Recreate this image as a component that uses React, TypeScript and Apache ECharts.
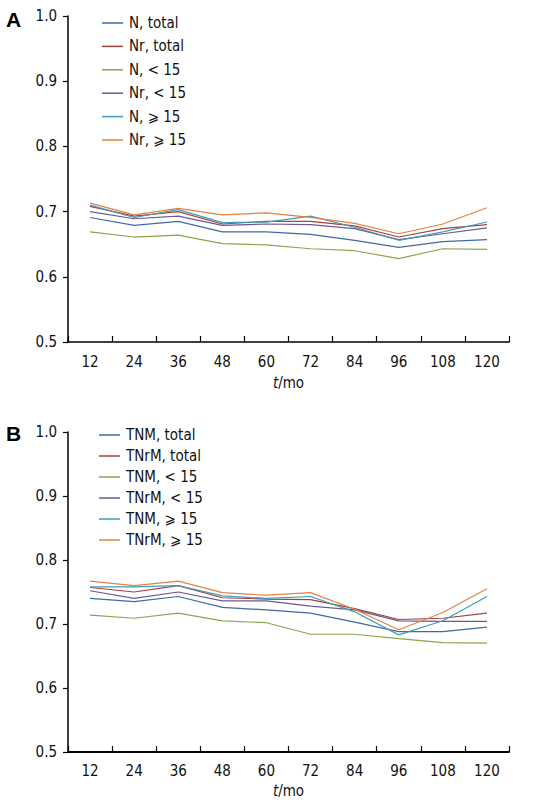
import React, { useEffect, useRef } from "react";
import * as echarts from "echarts";

const months = ["12", "24", "36", "48", "60", "72", "84", "96", "108", "120"];
const yTicks = [0.5, 0.6, 0.7, 0.8, 0.9, 1.0];

const namesA = ["N, total", "Nr, total", "N, < 15", "Nr, < 15", "N, ⩾ 15", "Nr, ⩾ 15"];
const nTotal = [0.691, 0.679, 0.685, 0.669, 0.669, 0.665, 0.656, 0.645, 0.654, 0.657];
const nrTotal = [0.708, 0.693, 0.700, 0.681, 0.685, 0.685, 0.678, 0.661, 0.674, 0.680];
const nLt15 = [0.669, 0.661, 0.664, 0.651, 0.649, 0.643, 0.640, 0.628, 0.643, 0.642];
const nrLt15 = [0.700, 0.689, 0.693, 0.679, 0.681, 0.680, 0.674, 0.657, 0.666, 0.675];
const nGe15 = [0.710, 0.691, 0.703, 0.683, 0.684, 0.693, 0.676, 0.656, 0.669, 0.684];
const nrGe15 = [0.713, 0.695, 0.705, 0.695, 0.698, 0.691, 0.682, 0.666, 0.681, 0.706];

const namesB = ["TNM, total", "TNrM, total", "TNM, < 15", "TNrM, < 15", "TNM, ⩾ 15", "TNrM, ⩾ 15"];
const tnmTotal = [0.740, 0.735, 0.743, 0.726, 0.722, 0.717, 0.703, 0.688, 0.688, 0.695];
const tnrmTotal = [0.757, 0.750, 0.760, 0.741, 0.739, 0.738, 0.724, 0.707, 0.709, 0.717];
const tnmLt15 = [0.714, 0.709, 0.717, 0.705, 0.702, 0.684, 0.684, 0.677, 0.671, 0.670];
const tnrmLt15 = [0.752, 0.740, 0.750, 0.736, 0.736, 0.728, 0.722, 0.705, 0.704, 0.704];
const tnmGe15 = [0.758, 0.758, 0.760, 0.744, 0.740, 0.743, 0.719, 0.683, 0.705, 0.743];
const tnrmGe15 = [0.767, 0.760, 0.767, 0.749, 0.745, 0.749, 0.723, 0.691, 0.718, 0.755];

const colors = ["#3f6aa3", "#a6403d", "#8aa64f", "#6e5894", "#3f9db8", "#e0843f"];

const FONT = "'DejaVu Sans Condensed', 'DejaVu Sans'";

export default function App() {
  const ref = useRef<HTMLDivElement>(null);
  useEffect(() => {
    if (!ref.current) return;
    const chart = echarts.init(ref.current, undefined, { renderer: "svg" });
    const dataA = [nTotal, nrTotal, nLt15, nrLt15, nGe15, nrGe15];
    const dataB = [tnmTotal, tnrmTotal, tnmLt15, tnrmLt15, tnmGe15, tnrmGe15];

    const xAxis = (gridIndex: number, lw: number, labelMargin: number, nameGap: number) => ({
      type: "category",
      gridIndex,
      data: months,
      boundaryGap: true,
      name: "{i|t}/mo",
      nameLocation: "middle",
      nameGap,
      nameTextStyle: {
        color: "#111",
        fontFamily: FONT,
        fontSize: 15,
        rich: {
          i: { fontStyle: "italic", fontFamily: FONT, fontSize: 15, color: "#111" },
        },
      },
      axisLine: { show: true, lineStyle: { color: "#000", width: lw } },
      axisTick: { show: true, inside: true, length: 6, interval: 0, lineStyle: { color: "#000", width: 1.2 } },
      axisLabel: { color: "#111", fontFamily: FONT, fontSize: 15, margin: labelMargin, interval: 0 },
      splitLine: { show: false },
    });
    const yAxis = (gridIndex: number) => ({
      type: "value",
      gridIndex,
      min: yTicks[0],
      max: yTicks[yTicks.length - 1],
      interval: 0.1,
      axisLine: { show: true, lineStyle: { color: "#000", width: 1.5 } },
      axisTick: { show: true, inside: false, length: 5, lineStyle: { color: "#000", width: 1.2 } },
      axisLabel: {
        color: "#111",
        fontFamily: FONT,
        fontSize: 15,
        margin: 11,
        formatter: (v: number) => v.toFixed(1),
      },
      splitLine: { show: false },
    });

    const series: any[] = [];
    namesA.forEach((n, i) =>
      series.push({
        name: n,
        type: "line",
        xAxisIndex: 0,
        yAxisIndex: 0,
        data: dataA[i],
        symbol: "none",
        lineStyle: { color: colors[i], width: 1.2 },
        itemStyle: { color: colors[i] },
      })
    );
    namesB.forEach((n, i) =>
      series.push({
        name: n,
        type: "line",
        xAxisIndex: 1,
        yAxisIndex: 1,
        data: dataB[i],
        symbol: "none",
        lineStyle: { color: colors[i], width: 1.2 },
        itemStyle: { color: colors[i] },
      })
    );

    const legend = (data: string[], left: number, top: number, gap: number) => ({
      data,
      orient: "vertical",
      left,
      top,
      icon: "rect",
      itemWidth: 21,
      itemHeight: 1.5,
      itemGap: gap,
      textStyle: { color: "#111", fontFamily: FONT, fontSize: 15, lineHeight: 18, padding: [0, 0, 0, 1] },
    });

    chart.setOption({
      animation: false,
      backgroundColor: "#fff",
      grid: [
        { left: 68, right: 27, top: 16, height: 326, containLabel: false },
        { left: 68, right: 27, top: 432, height: 320, containLabel: false },
      ],
      xAxis: [xAxis(0, 1.5, 12, 33), xAxis(1, 2, 11, 31)],
      yAxis: [yAxis(0), yAxis(1)],
      legend: [legend(namesA, 97, 9, 5.4), legend(namesB, 94, 421, 3)],
      series,
      graphic: [
        {
          type: "text",
          left: 6,
          top: 9,
          style: { text: "A", fontFamily: "Liberation Sans", fontWeight: "bold", fontSize: 21, fill: "#000" },
        },
        {
          type: "text",
          left: 6,
          top: 423,
          style: { text: "B", fontFamily: "Liberation Sans", fontWeight: "bold", fontSize: 21, fill: "#000" },
        },
      ],
    });
    return () => chart.dispose();
  }, []);
  return (
    <div
      ref={ref}
      style={{ position: "fixed", left: 0, top: 0, width: 536, height: 806, background: "#fff" }}
    />
  );
}
